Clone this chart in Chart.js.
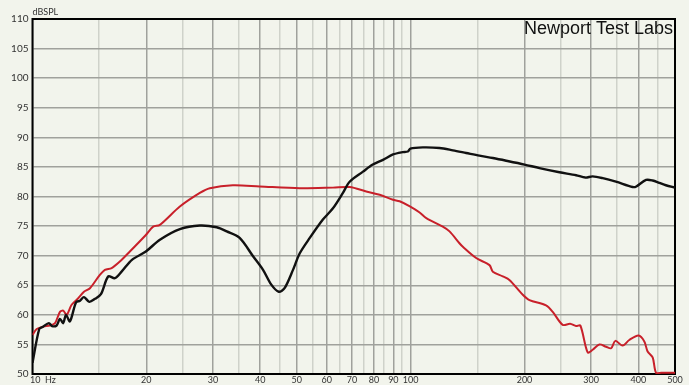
<!DOCTYPE html>
<html>
<head>
<meta charset="utf-8">
<script src="https://cdn.jsdelivr.net/npm/chart.js@4.4.1/dist/chart.umd.min.js"></script>
<style>
  html, body { margin: 0; padding: 0; background: #f2f4ec; }
  #wrap { width: 689px; height: 385px; }
</style>
</head>
<body>
<div id="wrap"><canvas id="fr"></canvas></div>
<script>
// frequency response (Hz, dBSPL)
const blackFreq = [10, 10.42, 10.66, 11.05, 11.26, 11.58, 11.82, 12.06, 12.26, 12.56, 13.03, 13.35, 13.68, 14.13, 14.63, 15.17, 15.86, 16.51, 17.2, 18.32, 19.94, 21.72, 24.53, 27.7, 30.7, 32.64, 35.3, 38.3, 40.7, 42.8, 44.8, 46.4, 48.85, 50.9, 54.1, 58.6, 62.3, 66.2, 68.96, 74.8, 79.4, 84.5, 89.8, 95.3, 98.3, 99.8, 107.7, 119.2, 129.3, 140.2, 152, 164.9, 178.9, 200, 219, 247.4, 273.8, 289.7, 302.9, 322, 349, 386.4, 395.1, 419.2, 436.4, 454.5, 473, 500];
const blackDb = [51.9, 57.6, 58.0, 58.6, 58.1, 58.2, 59.3, 58.6, 60.0, 58.9, 62.1, 62.4, 63.0, 62.2, 62.7, 63.5, 66.5, 66.2, 67.3, 69.3, 70.7, 72.7, 74.5, 75.1, 74.8, 74.1, 73.0, 69.9, 67.6, 65.1, 63.9, 64.5, 67.6, 70.4, 73.0, 76.1, 78.0, 80.6, 82.5, 84.2, 85.4, 86.2, 87.1, 87.5, 87.6, 88.1, 88.3, 88.2, 87.8, 87.35, 86.9, 86.5, 86.05, 85.4, 84.8, 84.1, 83.6, 83.2, 83.4, 83.1, 82.5, 81.6, 81.7, 82.8, 82.7, 82.3, 81.9, 81.5];

const redFreq = [10, 10.26, 10.68, 11.12, 11.47, 11.82, 12.06, 12.31, 12.69, 13.21, 13.68, 14.19, 15.07, 15.54, 16.19, 17.02, 18.09, 19.94, 20.85, 21.72, 24.53, 27.7, 29.43, 33.86, 39.9, 50.9, 62.3, 68.96, 76.3, 82.8, 89.8, 93.5, 99.8, 105.6, 110, 121.6, 126.7, 134.6, 137.4, 149, 161.6, 164.9, 175.2, 182.4, 197.9, 206.1, 228, 237.5, 252.4, 264, 273.8, 281, 293.8, 302.9, 315.5, 328.6, 338.8, 347.7, 363.5, 378.5, 400.6, 414.8, 423.2, 436.4, 445.5, 460, 500];
const redDb = [56.6, 57.6, 58.0, 58.2, 58.6, 60.5, 60.7, 60.0, 61.7, 62.8, 63.9, 64.5, 66.75, 67.6, 67.9, 69.0, 70.7, 73.5, 74.9, 75.2, 78.3, 80.6, 81.4, 81.9, 81.7, 81.4, 81.5, 81.6, 80.85, 80.3, 79.45, 79.2, 78.3, 77.3, 76.35, 74.9, 74.1, 72.1, 71.5, 69.6, 68.4, 67.3, 66.5, 65.9, 63.4, 62.5, 61.6, 60.5, 58.3, 58.5, 58.1, 58.2, 53.65, 54.1, 55.0, 54.6, 54.35, 55.6, 54.8, 55.75, 56.5, 55.5, 53.8, 52.8, 50.2, 50.2, 50.2];

const xGrid = [10, 15, 20, 25, 30, 35, 40, 45, 50, 55, 60, 65, 70, 75, 80, 85, 90, 95, 100, 150, 200, 250, 300, 350, 400, 450, 500];
const xLabels = {10: '         10  Hz', 20: '20', 30: '30', 40: '40', 50: '50', 60: '60', 70: '70', 80: '80', 90: '90', 100: '100', 200: '200', 300: '300', 400: '400', 500: '500'};

const toXY = (fs, ds) => fs.map((f, i) => ({x: f, y: ds[i]}));

const frame = {
  id: 'frame',
  beforeDatasetsDraw(chart) {
    const {ctx, chartArea: a} = chart;
    ctx.save();
    ctx.strokeStyle = '#000';
    ctx.lineWidth = 2;
    ctx.strokeRect(a.left, a.top, a.right - a.left, a.bottom - a.top);
    ctx.fillStyle = '#111';
    ctx.font = '18px "Liberation Sans", Arial, sans-serif';
    ctx.textAlign = 'right';
    ctx.textBaseline = 'alphabetic';
    ctx.fillText('Newport Test Labs', a.right - 2, a.top + 15);
    ctx.fillStyle = '#333';
    ctx.font = '9px Lato, "Noto Sans", sans-serif';
    ctx.textAlign = 'left';
    ctx.fillText('dBSPL', a.left, a.top - 4);
    ctx.restore();
  }
};

new Chart(document.getElementById('fr'), {
  type: 'line',
  data: {
    datasets: [
      {data: toXY(blackFreq, blackDb), borderColor: '#111111', borderWidth: 2.4, pointRadius: 0, tension: 0.3, order: 1},
      {data: toXY(redFreq, redDb), borderColor: '#c8202a', borderWidth: 2, pointRadius: 0, tension: 0.3, order: 2}
    ]
  },
  options: {
    responsive: true,
    maintainAspectRatio: false,
    animation: false,
    layout: {padding: {top: 19, right: 14, left: 0, bottom: 0}},
    plugins: {legend: {display: false}, tooltip: {enabled: false}},
    scales: {
      x: {
        type: 'logarithmic',
        min: 10,
        max: 500,
        afterBuildTicks: s => { s.ticks = xGrid.map(v => ({value: v})); },
        afterFit: s => { s.height = 11; },
        grid: {
          drawTicks: false,
          lineWidth: 1.5,
          color: c => (xLabels[c.tick.value] ? '#a0a19c' : '#cfd2ca')
        },
        border: {display: false},
        ticks: {
          autoSkip: false,
          maxRotation: 0,
          padding: 1,
          color: '#333',
          font: {size: 9, family: 'Lato, "Noto Sans", sans-serif'},
          callback: v => xLabels[v] || ''
        }
      },
      y: {
        min: 50,
        max: 110,
        afterFit: s => { s.width = 32.5; },
        grid: {
          drawTicks: false,
          lineWidth: 1.5,
          color: c => (c.tick.value % 5 === 0 ? '#a0a19c' : '#cfd2ca')
        },
        border: {display: false},
        ticks: {
          stepSize: 2.5,
          padding: 4,
          color: '#333',
          font: {size: 10, family: 'Lato, "Noto Sans", sans-serif'},
          callback: v => (v % 5 === 0 ? v : '')
        }
      }
    }
  },
  plugins: [frame]
});
</script>
</body>
</html>
